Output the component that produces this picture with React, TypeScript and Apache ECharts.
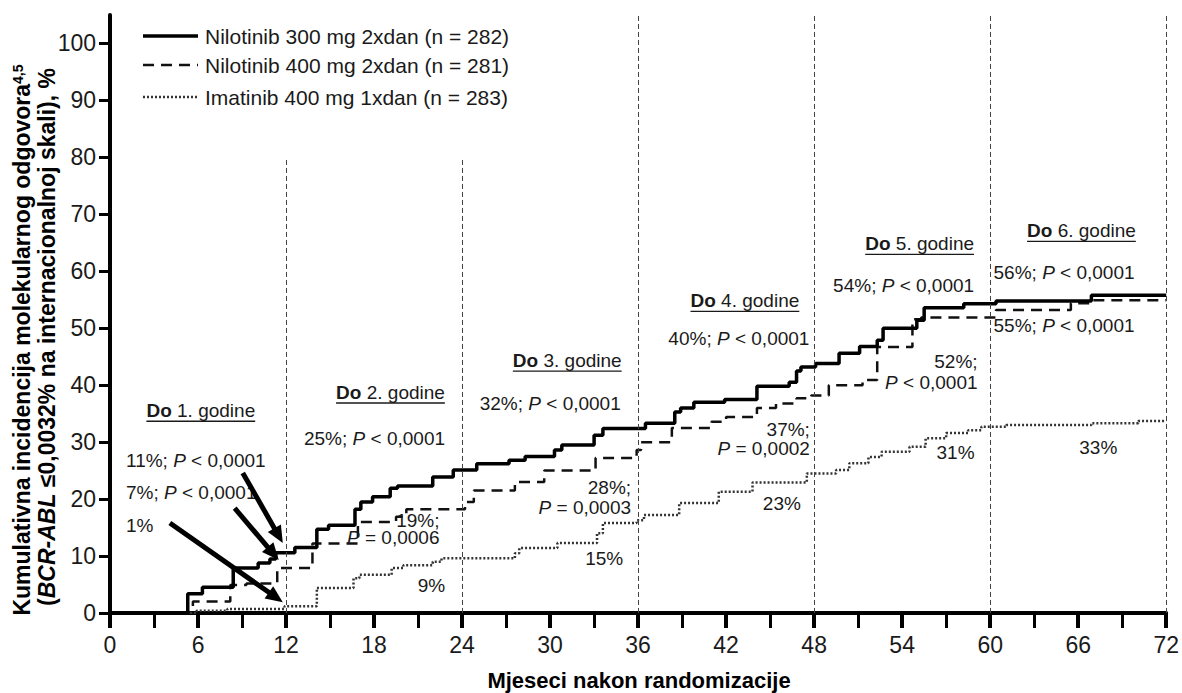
import React, { useEffect, useRef } from "react";
import * as echarts from "echarts";

const FONT = '"Liberation Sans", Arial, Helvetica, sans-serif';

const seriesNames = [
  "Nilotinib 300 mg 2xdan (n = 282)",
  "Nilotinib 400 mg 2xdan (n = 281)",
  "Imatinib 400 mg 1xdan (n = 283)",
];

// [month, cumulative incidence %] – value holds from that month on
const nilotinib300: number[][] = [
  [0, 0], [5.3, 3.4], [6.3, 4.5], [8.4, 7.9], [10.1, 8.8], [10.9, 9.5], [11.3, 10.6],
  [12.6, 11.5], [14.1, 14.7], [14.9, 15.4], [16.7, 18.2], [17.1, 19.5], [17.9, 20.4],
  [19.1, 21.9], [19.6, 22.3], [22.0, 23.9], [23.4, 25.1], [25.0, 26.2], [27.2, 26.8],
  [28.3, 27.5], [30.3, 28.6], [30.8, 29.5], [33.0, 31.2], [33.6, 32.4], [36.5, 33.3],
  [38.5, 35.3], [38.9, 36.0], [39.8, 37.0], [41.9, 37.5], [44.1, 39.8], [46.3, 40.5],
  [46.8, 42.5], [47.1, 43.2], [48.1, 43.8], [49.7, 45.6], [51.1, 46.8], [52.3, 47.9],
  [52.7, 50.0], [55.0, 51.4], [55.5, 53.6], [58.2, 54.3], [60.4, 54.8], [66.9, 55.8],
  [72, 55.8],
];
const nilotinib400: number[][] = [
  [0, 0], [5.65, 2.0], [8.2, 4.9], [9.3, 5.2], [11.4, 7.9], [13.8, 12.2], [16.9, 16.0],
  [19.5, 16.9], [20.2, 18.2], [24.2, 19.5], [24.8, 21.5], [27.6, 23.0], [29.6, 25.0],
  [33.1, 27.2], [35.9, 28.6], [36.2, 30.0], [38.3, 32.5], [41.0, 33.6], [42.0, 34.4],
  [44.1, 36.0], [45.4, 36.8], [46.8, 37.7], [47.8, 38.2], [49.0, 40.0], [51.3, 40.9],
  [52.3, 46.7], [54.7, 51.6], [55.3, 51.9], [60.4, 53.2], [65.5, 54.4], [66.9, 54.9],
  [72, 54.9],
];
const imatinib400: number[][] = [
  [0, 0], [5.9, 0.4], [8.0, 0.7], [11.9, 1.2], [14.1, 4.4], [16.6, 6.1], [17.0, 6.7],
  [19.2, 7.9], [20.0, 8.4], [22.0, 9.0], [22.6, 9.6], [27.6, 10.5], [27.9, 11.4],
  [30.5, 12.3], [33.2, 14.0], [33.6, 15.8], [35.9, 16.3], [36.4, 17.2], [38.8, 19.3],
  [41.5, 21.3], [43.8, 22.9], [47.5, 24.5], [49.5, 25.1], [50.4, 26.3], [51.7, 27.4],
  [52.6, 28.3], [54.5, 29.2], [55.6, 30.7], [57.0, 31.6], [58.5, 32.1], [59.4, 32.7],
  [61.1, 33.0], [66.9, 33.3], [70.1, 33.7], [72, 33.7],
];

const yTickValues = [0, 10, 20, 30, 40, 50, 60, 70, 80, 90, 100];
const yearMarks = [12, 24, 36, 48, 60, 72];
const yearMarkTops = [80, 80, 105, 105, 105, 105];

// year headings "Do N. godine" (anchored by centre, data coordinates)
const yearHeadings: { n: string; at: number[] }[] = [
  { n: "1.", at: [6.19, 35.6] },
  { n: "2.", at: [19.12, 38.8] },
  { n: "3.", at: [31.17, 44.4] },
  { n: "4.", at: [43.28, 54.9] },
  { n: "5.", at: [55.19, 64.9] },
  { n: "6.", at: [66.22, 67.2] },
];

// annotation texts; *...* marks italic
const notes: { t: string; at: number[]; align: string }[] = [
  { t: "11%; *P* < 0,0001", at: [1.09, 26.8], align: "left" },
  { t: "7%; *P* < 0,0001", at: [1.09, 21.1], align: "left" },
  { t: "1%", at: [1.09, 15.4], align: "left" },
  { t: "25%; *P* < 0,0001", at: [18.03, 30.7], align: "center" },
  { t: "19%;", at: [22.46, 16.3], align: "right" },
  { t: "*P* = 0,0006", at: [22.46, 13.2], align: "right" },
  { t: "9%", at: [21.91, 4.9], align: "center" },
  { t: "32%; *P* < 0,0001", at: [30.01, 36.8], align: "center" },
  { t: "28%;", at: [35.52, 22.1], align: "right" },
  { t: "*P* = 0,0003", at: [35.52, 18.6], align: "right" },
  { t: "15%", at: [33.69, 9.6], align: "center" },
  { t: "40%; *P* < 0,0001", at: [42.87, 48.2], align: "center" },
  { t: "37%;", at: [47.71, 32.3], align: "right" },
  { t: "*P* = 0,0002", at: [47.71, 28.9], align: "right" },
  { t: "23%", at: [45.8, 19.3], align: "center" },
  { t: "54%; *P* < 0,0001", at: [54.1, 57.5], align: "center" },
  { t: "52%;", at: [59.14, 44.2], align: "right" },
  { t: "*P* < 0,0001", at: [59.14, 40.5], align: "right" },
  { t: "31%", at: [57.64, 28.1], align: "center" },
  { t: "56%; *P* < 0,0001", at: [60.23, 59.8], align: "left" },
  { t: "55%; *P* < 0,0001", at: [60.23, 50.5], align: "left" },
  { t: "33%", at: [67.37, 29.1], align: "center" },
];

const arrows: { from: number[]; to: number[] }[] = [
  { from: [9.05, 24.6], to: [11.78, 12.3] },
  { from: [8.5, 18.4], to: [11.5, 9.3] },
  { from: [4.08, 15.8], to: [11.78, 1.9] },
];

const TXT = "#1a1a1a";

function richOf(t: string) {
  return t
    .split("*")
    .map((p, i) => (p ? `{${i % 2 ? "i" : "n"}|${p}}` : ""))
    .join("");
}

export default function App() {
  const ref = useRef<HTMLDivElement>(null);

  useEffect(() => {
    const chart = echarts.init(ref.current!, null, { renderer: "svg" });
    const markData = yearMarks.map((m, i) => [
      { coord: [m, 0] },
      { coord: [m, yearMarkTops[i]] },
    ]);
    chart.setOption({
      animation: false,
      backgroundColor: "#ffffff",
      grid: { left: 110, right: 14, top: 15, bottom: 80, containLabel: false },
      xAxis: {
        type: "value",
        min: 0,
        max: 72,
        interval: 6,
        axisLine: { show: true, lineStyle: { color: "#000", width: 4 } },
        axisTick: { show: true, length: 15, lineStyle: { color: "#000", width: 4 } },
        minorTick: { show: true, splitNumber: 2, length: 15, lineStyle: { color: "#000", width: 3 } },
        splitLine: { show: false },
        minorSplitLine: { show: false },
        axisLabel: { fontSize: 23, fontFamily: FONT, color: TXT, margin: 20 },
      },
      yAxis: {
        type: "value",
        min: 0,
        max: 105,
        interval: 10,
        axisLine: { show: true, lineStyle: { color: "#000", width: 4 } },
        axisTick: { show: true, length: 11, lineStyle: { color: "#000", width: 3 }, customValues: yTickValues },
        splitLine: { show: false },
        axisLabel: { fontSize: 23, fontFamily: FONT, color: TXT, margin: 14, customValues: yTickValues },
      },
      series: [
        {
          type: "line",
          name: "marks",
          data: [],
          z: 1,
          silent: true,
          symbol: "none",
          markLine: {
            silent: true,
            symbol: ["none", "none"],
            label: { show: false },
            emphasis: { disabled: true },
            lineStyle: { color: "#444", width: 1, type: [5, 3] },
            data: markData,
          },
        },
        {
          type: "line",
          name: seriesNames[0],
          data: nilotinib300,
          step: "end",
          symbol: "none",
          z: 4,
          lineStyle: { color: "#000", width: 3.5, type: "solid" },
        },
        {
          type: "line",
          name: seriesNames[1],
          data: nilotinib400,
          step: "end",
          symbol: "none",
          z: 3,
          lineStyle: { color: "#111", width: 2.5, type: [11, 7] },
        },
        {
          type: "line",
          name: seriesNames[2],
          data: imatinib400,
          step: "end",
          symbol: "none",
          z: 3,
          lineStyle: { color: "#333", width: 2.5, type: [2, 2] },
        },
      ],
    });

    const px = (p: number[]) => chart.convertToPixel({ gridIndex: 0 }, p) as number[];
    const canvas = document.createElement("canvas");
    const ctx = canvas.getContext("2d")!;
    const tw = (t: string, f: string) => {
      ctx.font = f;
      return ctx.measureText(t).width;
    };

    const g: any[] = [];
    const richStyle = {
      n: { fontSize: 19, fontFamily: FONT, fill: TXT },
      i: { fontSize: 19, fontFamily: FONT, fill: TXT, fontStyle: "italic" },
      b: { fontSize: 19, fontFamily: FONT, fill: TXT, fontWeight: "bold" },
    };

    // legend
    const legendRows = [36, 65, 97];
    const legendDash: any[] = [null, [11, 7], [2, 2]];
    const legendWidth = [3.5, 2.5, 2.5];
    const legendColor = ["#000", "#111", "#333"];
    seriesNames.forEach((name, i) => {
      g.push({
        type: "line",
        shape: { x1: 143, y1: legendRows[i], x2: 198, y2: legendRows[i] },
        style: { stroke: legendColor[i], lineWidth: legendWidth[i], lineDash: legendDash[i] },
        z: 100,
      });
      g.push({
        type: "text",
        x: 205,
        y: legendRows[i],
        z: 100,
        style: { text: name, fill: TXT, fontSize: 21, fontFamily: FONT, align: "left", verticalAlign: "middle" },
      });
    });

    // headings
    yearHeadings.forEach((h) => {
      const [cx, cy] = px(h.at);
      const w =
        tw("Do", `bold 19px ${FONT}`) + tw(` ${h.n} godine`, `19px ${FONT}`);
      g.push({
        type: "text",
        x: cx,
        y: cy,
        z: 100,
        style: {
          text: `{b|Do}{n| ${h.n} godine}`,
          rich: richStyle,
          align: "center",
          verticalAlign: "middle",
        },
      });
      g.push({
        type: "line",
        z: 100,
        shape: { x1: cx - w / 2, y1: cy + 11, x2: cx + w / 2, y2: cy + 11 },
        style: { stroke: TXT, lineWidth: 1.3 },
      });
    });

    // notes
    notes.forEach((nt) => {
      const [x, y] = px(nt.at);
      g.push({
        type: "text",
        x,
        y,
        z: 100,
        style: { text: richOf(nt.t), rich: richStyle, align: nt.align, verticalAlign: "middle" },
      });
    });

    // arrows
    arrows.forEach((a) => {
      const [sx, sy] = px(a.from);
      const [tx, ty] = px(a.to);
      const L = Math.hypot(tx - sx, ty - sy);
      const dx = (tx - sx) / L;
      const dy = (ty - sy) / L;
      const hl = 17;
      const hw = 7.5;
      const bx = tx - dx * hl;
      const by = ty - dy * hl;
      const nx = -dy;
      const ny = dx;
      g.push({
        type: "line",
        z: 101,
        shape: { x1: sx, y1: sy, x2: bx + dx * 2, y2: by + dy * 2 },
        style: { stroke: "#000", lineWidth: 5 },
      });
      g.push({
        type: "polygon",
        z: 101,
        shape: { points: [[tx, ty], [bx + nx * hw, by + ny * hw], [bx - nx * hw, by - ny * hw]] },
        style: { fill: "#000" },
      });
    });

    // axis titles
    g.push({
      type: "text",
      x: 639,
      y: 680,
      z: 100,
      style: {
        text: "Mjeseci nakon randomizacije",
        fill: "#000",
        fontSize: 22,
        fontWeight: "bold",
        fontFamily: FONT,
        align: "center",
        verticalAlign: "middle",
      },
    });
    const yRich = {
      b: { fontSize: 23, fontWeight: "bold", fontFamily: FONT, fill: "#000" },
      bi: { fontSize: 23, fontWeight: "bold", fontStyle: "italic", fontFamily: FONT, fill: "#000" },
      s: { fontSize: 14, fontWeight: "bold", fontFamily: FONT, fill: "#000", verticalAlign: "top" },
    };
    g.push({
      type: "text",
      x: 22,
      y: 340,
      rotation: Math.PI / 2,
      z: 100,
      style: {
        text: "{b|Kumulativna incidencija molekularnog odgovora}{s|4,5}",
        rich: yRich,
        align: "center",
        verticalAlign: "middle",
      },
    });
    g.push({
      type: "text",
      x: 47,
      y: 337,
      rotation: Math.PI / 2,
      z: 100,
      style: {
        text: "{b|(}{bi|BCR-ABL}{b| ≤0,0032% na internacionalnoj skali), %}",
        rich: yRich,
        align: "center",
        verticalAlign: "middle",
      },
    });

    chart.setOption({ graphic: g });
    return () => chart.dispose();
  }, []);

  return (
    <div
      ref={ref}
      style={{ position: "absolute", left: 0, top: 0, width: 1182, height: 693, background: "#fff" }}
    />
  );
}
